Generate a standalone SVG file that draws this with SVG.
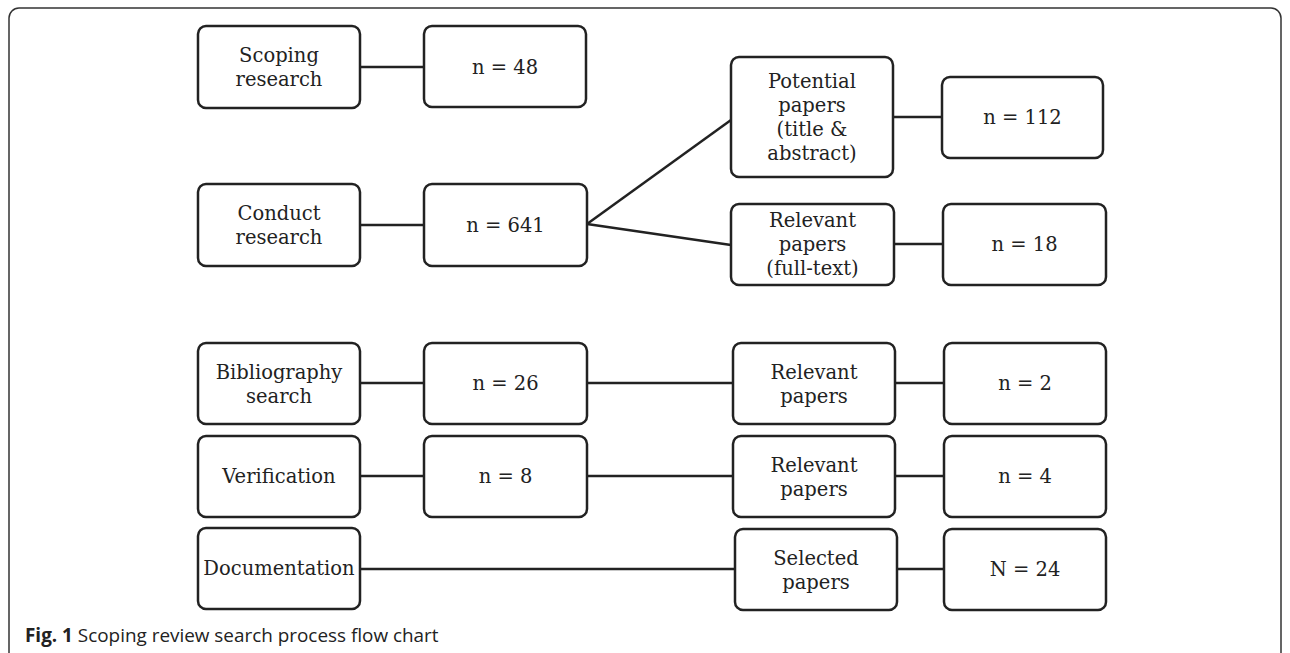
<svg xmlns="http://www.w3.org/2000/svg" width="1290" height="653" viewBox="0 0 1290 653">
<style>
.box{fill:#fff;stroke:#222;stroke-width:2.5}
.lbl{font-family:"DejaVu Serif","Liberation Serif",serif;font-size:19.5px;fill:#222;text-anchor:middle}
.conn line{stroke:#222;stroke-width:2.5}
.cap{font-family:"Open Sans","Liberation Sans",sans-serif;font-size:18.9px;fill:#222}
</style>
<rect width="1290" height="653" fill="#fff"/>
<path d="M9,653 V18 A10,10 0 0 1 19,8 H1271 A10,10 0 0 1 1281,18 V653" fill="none" stroke="#333" stroke-width="1.5"/>
<g class="conn">
<line x1="360" y1="67" x2="424" y2="67"/>
<line x1="360" y1="225" x2="424" y2="225"/>
<line x1="587" y1="224" x2="731" y2="120"/>
<line x1="587" y1="224" x2="731" y2="245"/>
<line x1="893" y1="117" x2="942" y2="117"/>
<line x1="894" y1="244" x2="943" y2="244"/>
<line x1="360" y1="383" x2="424" y2="383"/>
<line x1="587" y1="383" x2="733" y2="383"/>
<line x1="895" y1="383" x2="944" y2="383"/>
<line x1="360" y1="476" x2="424" y2="476"/>
<line x1="587" y1="476" x2="733" y2="476"/>
<line x1="895" y1="476" x2="944" y2="476"/>
<line x1="360" y1="569" x2="735" y2="569"/>
<line x1="897" y1="569" x2="944" y2="569"/>
</g>
<g id="scoping"><rect class="box" x="198" y="26" width="162" height="82" rx="8"/><text class="lbl" x="279" y="62">Scoping</text><text class="lbl" x="279" y="86">research</text></g>
<g id="n48"><rect class="box" x="424" y="26" width="162" height="81" rx="8"/><text class="lbl" x="505" y="73.5">n = 48</text></g>
<g id="conduct"><rect class="box" x="198" y="184" width="162" height="82" rx="8"/><text class="lbl" x="279" y="220">Conduct</text><text class="lbl" x="279" y="244">research</text></g>
<g id="n641"><rect class="box" x="424" y="184" width="163" height="82" rx="8"/><text class="lbl" x="505.5" y="232">n = 641</text></g>
<g id="potential"><rect class="box" x="731" y="57" width="162" height="120" rx="8"/><text class="lbl" x="812" y="87.5">Potential</text><text class="lbl" x="812" y="111.5">papers</text><text class="lbl" x="812" y="135.5">(title &amp;</text><text class="lbl" x="812" y="159.5">abstract)</text></g>
<g id="n112"><rect class="box" x="942" y="77" width="161" height="81" rx="8"/><text class="lbl" x="1022.5" y="124">n = 112</text></g>
<g id="fulltext"><rect class="box" x="731" y="204" width="163" height="81" rx="8"/><text class="lbl" x="812.5" y="227">Relevant</text><text class="lbl" x="812.5" y="251">papers</text><text class="lbl" x="812.5" y="275">(full-text)</text></g>
<g id="n18"><rect class="box" x="943" y="204" width="163" height="81" rx="8"/><text class="lbl" x="1024.5" y="251">n = 18</text></g>
<g id="bibliography"><rect class="box" x="198" y="343" width="162" height="81" rx="8"/><text class="lbl" x="279" y="378.5">Bibliography</text><text class="lbl" x="279" y="402.5">search</text></g>
<g id="n26"><rect class="box" x="424" y="343" width="163" height="81" rx="8"/><text class="lbl" x="505.5" y="390">n = 26</text></g>
<g id="relevant1"><rect class="box" x="733" y="343" width="162" height="81" rx="8"/><text class="lbl" x="814" y="378.5">Relevant</text><text class="lbl" x="814" y="402.5">papers</text></g>
<g id="n2"><rect class="box" x="944" y="343" width="162" height="81" rx="8"/><text class="lbl" x="1025" y="390">n = 2</text></g>
<g id="verification"><rect class="box" x="198" y="436" width="162" height="81" rx="8"/><text class="lbl" x="279" y="483">Verification</text></g>
<g id="n8"><rect class="box" x="424" y="436" width="163" height="81" rx="8"/><text class="lbl" x="505.5" y="483">n = 8</text></g>
<g id="relevant2"><rect class="box" x="733" y="436" width="162" height="81" rx="8"/><text class="lbl" x="814" y="471.5">Relevant</text><text class="lbl" x="814" y="495.5">papers</text></g>
<g id="n4"><rect class="box" x="944" y="436" width="162" height="81" rx="8"/><text class="lbl" x="1025" y="483">n = 4</text></g>
<g id="documentation"><rect class="box" x="198" y="528" width="162" height="81" rx="8"/><text class="lbl" x="279" y="575">Documentation</text></g>
<g id="selected"><rect class="box" x="735" y="529" width="162" height="81" rx="8"/><text class="lbl" x="816" y="564.5">Selected</text><text class="lbl" x="816" y="588.5">papers</text></g>
<g id="n24"><rect class="box" x="944" y="529" width="162" height="81" rx="8"/><text class="lbl" x="1025" y="576">N = 24</text></g>
<text class="cap" x="25" y="642"><tspan font-weight="bold">Fig. 1</tspan> Scoping review search process flow chart</text>
</svg>
